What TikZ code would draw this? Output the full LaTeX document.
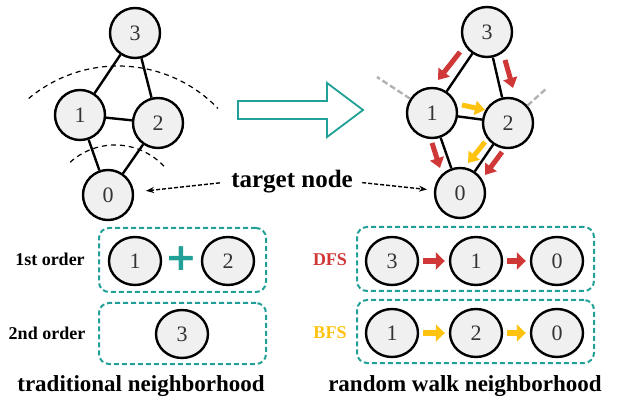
\documentclass[tikz,border=0pt]{standalone}
\usepackage{fontspec}
\setmainfont{Liberation Serif}
\newfontfamily\plusfont{DejaVu Sans}
\usetikzlibrary{shapes.geometric,arrows.meta}
\definecolor{boxteal}{RGB}{32,160,150}
\definecolor{walkred}{RGB}{208,56,56}
\definecolor{walkyellow}{RGB}{255,194,14}

\begin{document}
\begin{tikzpicture}[x=1pt, y=-1pt,
    vtx/.style = {draw,circle,line width=2.4pt,fill=black!6,minimum size=50pt,inner sep=0pt,
                  text=black!80,font=\fontsize{22}{22}\selectfont},
    seq/.style = {vtx,ellipse,minimum width=52pt,minimum height=48pt},
    link/.style = {line width=2.4pt},
    box/.style = {draw=boxteal,line width=2pt,dash pattern=on 5pt off 3pt,rounded corners=10pt},
    walk/.style = {line width=5pt,-{Triangle[length=10pt,width=14pt]}},
    hop/.style = {line width=6pt,-{Triangle[length=9pt,width=17pt]},shorten <=4pt,shorten >=4pt},
    stub/.style = {draw=gray!60,line width=2.4pt,dash pattern=on 6pt off 3pt},
    arc/.style = {line width=1.2pt,dash pattern=on 5pt off 4pt},
    pointer/.style = {line width=1.4pt,dash pattern=on 4pt off 2pt,-{Stealth[length=8pt,width=6pt]}},
    lab/.style = {font=\bfseries\fontsize{18}{18}\selectfont},
    title/.style = {font=\bfseries\fontsize{23}{23}\selectfont}]
    \useasboundingbox (0,0) rectangle (621,403);

    % left graph
    \node[vtx] (l3) at (135,33) {3};
    \node[vtx] (l1) at (80,115) {1};
    \node[vtx] (l2) at (158,123) {2};
    \node[vtx] (l0) at (108,195) {0};
    \foreach \a/\b in {l3/l1, l3/l2, l1/l2, l1/l0, l2/l0}
        \draw[link] (\a) -- (\b);
    \draw[arc] (118,205) ++(-130:139) arc[start angle=-130, end angle=-44, radius=139];
    \draw[arc] (115,212) ++(-132:67) arc[start angle=-132, end angle=-42, radius=67];

    % big arrow
    \draw[boxteal,line width=1.8pt,line join=miter]
        (238,101) -- (327,101) -- (327,83) -- (363,110) -- (327,137) -- (327,119) -- (238,119) -- cycle;

    % right graph
    \node[vtx] (r3) at (487,32) {3};
    \node[vtx] (r1) at (432,113) {1};
    \node[vtx] (r2) at (508,123) {2};
    \node[vtx] (r0) at (460,193) {0};
    \foreach \a/\b in {r3/r1, r3/r2, r1/r2, r1/r0, r2/r0}
        \draw[link] (\a) -- (\b);
    \coordinate (s1) at (377,77);
    \coordinate (s2) at (547,88);
    \draw[stub] (r1) -- (s1);
    \draw[stub] (r2) -- (s2);
    \draw[walk,walkred] (460,52) -- (438,80);
    \draw[walk,walkred] (505,60) -- (513,88);
    \draw[walk,walkyellow] (462,105) -- (485,110);
    \draw[walk,walkred] (432,143) -- (440,168);
    \draw[walk,walkyellow] (485,142) -- (468,163);
    \draw[walk,walkred] (502,152) -- (485,175);

    % target node
    \node[font=\bfseries\fontsize{25}{25}\selectfont] (tn) at (292,182) {target node};
    \draw[pointer,shorten <=8pt,shorten >=12pt] (tn.west) -- (l0);
    \draw[pointer,shorten <=6pt,shorten >=7pt] (tn.east) -- (r0);

    % traditional neighborhood
    \node[box,minimum width=167pt,minimum height=64pt] (ord1) at (182.5,260) {};
    \node[box,minimum width=167pt,minimum height=61pt] (ord2) at (182.5,333.5) {};
    \node[lab] (lab1) at (50,259) {1st order};
    \node[lab] (lab2) at (47,333) {2nd order};
    \node[seq] (t1) at (135,261) {1};
    \node[seq] (t2) at (228,261) {2};
    \node[text=boxteal,font=\plusfont\bfseries\fontsize{38}{38}\selectfont] (plus) at (181,259) {+};
    \node[seq] (t3) at (182,334) {3};

    % random walk neighborhood
    \node[box,minimum width=237pt,minimum height=64pt] (dfs) at (475.5,259) {};
    \node[box,minimum width=237pt,minimum height=63pt] (bfs) at (475.5,331.5) {};
    \node[lab,text=walkred] (labd) at (330,260) {DFS};
    \node[lab,text=walkyellow] (labb) at (330,333) {BFS};
    \node[seq] (d3) at (392,261) {3};
    \node[seq] (d1) at (476,261) {1};
    \node[seq] (d0) at (557,261) {0};
    \node[seq] (b1) at (392,333) {1};
    \node[seq] (b2) at (476,333) {2};
    \node[seq] (b0) at (557,333) {0};
    \draw[hop,walkred] (d3) -- (d1);
    \draw[hop,walkred] (d1) -- (d0);
    \draw[hop,walkyellow] (b1) -- (b2);
    \draw[hop,walkyellow] (b2) -- (b0);

    \node[title] (trad) at (141,386) {traditional neighborhood};
    \node[title] (rw) at (465,386) {random walk neighborhood};
\end{tikzpicture}
\end{document}
